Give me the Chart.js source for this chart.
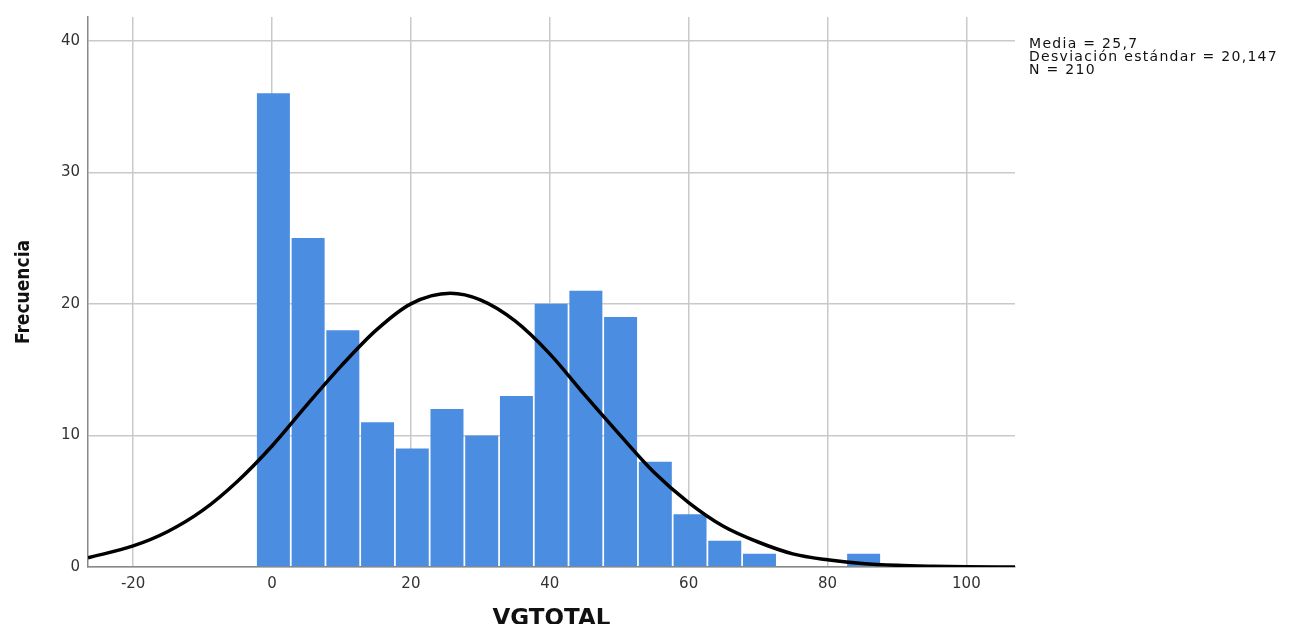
<!DOCTYPE html>
<html>
<head>
<meta charset="utf-8">
<script src="https://cdn.jsdelivr.net/npm/chart.js@4/dist/chart.umd.min.js"></script>
<style>
  html, body { margin: 0; padding: 0; background: #fff; }
  #wrap { position: relative; width: 1293px; height: 624px; }
  #stats {
    position: absolute; left: 1029px; top: 37px;
    font-family: "DejaVu Sans", sans-serif; font-size: 14px; line-height: 13px;
    letter-spacing: 1.3px; color: #111; white-space: pre;
  }
</style>
</head>
<body>
<div id="wrap">
  <canvas id="grafico" width="1293" height="624"></canvas>
  <div id="stats">Media = 25,7
Desviación estándar = 20,147
N = 210</div>
</div>
<script>
// Histograma de VGTOTAL (centros de los intervalos y frecuencias)
const centrosIntervalos = [0.2, 5.2, 10.2, 15.2, 20.2, 25.2, 30.2, 35.2, 40.2, 45.2, 50.2, 55.2, 60.2, 65.2, 70.2, 75.2, 80.2, 85.2];
const frecuencias = [36, 25, 18, 11, 9, 12, 10, 13, 20, 21, 19, 8, 4, 2, 1, 0, 0, 1];

// Curva normal
const curvaX = [-26.5, -20, -15, -10, -5, 0, 5, 10, 15, 20, 25.7, 30, 35, 40, 45, 50, 55, 60, 65, 70, 75, 80, 85, 90, 95, 100, 107];
const curvaY = [0.7, 1.6, 2.7, 4.3, 6.5, 9.2, 12.3, 15.3, 18.0, 20.0, 20.8, 20.3, 18.7, 16.2, 13.1, 10.1, 7.2, 4.9, 3.1, 1.9, 1.0, 0.55, 0.27, 0.13, 0.06, 0.02, 0.0];

// Marcas de los ejes
const ticksX = [-20, 0, 20, 40, 60, 80, 100];
const ticksY = [0, 10, 20, 30, 40];

const datosBarras = centrosIntervalos.map((x, i) => ({ x: x, y: frecuencias[i] }));
const datosCurva = curvaX.map((x, i) => ({ x: x, y: curvaY[i] }));

const ctx = document.getElementById('grafico').getContext('2d');
new Chart(ctx, {
  type: 'bar',
  data: {
    datasets: [{
      type: 'line',
      data: datosCurva,
      borderColor: '#000',
      borderWidth: 3.5,
      pointRadius: 0,
      cubicInterpolationMode: 'monotone',
      fill: false,
      order: 0
    }, {
      type: 'bar',
      data: datosBarras,
      backgroundColor: '#4b8de0',
      borderWidth: 0,
      barPercentage: 0.95,
      categoryPercentage: 1,
      order: 1
    }]
  },
  options: {
    responsive: false,
    animation: false,
    layout: { padding: { top: 14, right: 278, left: 0, bottom: 0 } },
    plugins: { legend: { display: false }, tooltip: { enabled: false } },
    scales: {
      x: {
        type: 'linear',
        offset: false,
        min: -26.5,
        max: 107,
        afterBuildTicks: s => { s.ticks = ticksX.map(v => ({ value: v })); },
        afterFit: s => { s.height = 57; },
        grid: { color: '#c9c9c9', lineWidth: 1.5, drawTicks: false, offset: false },
        border: { color: '#888', width: 1.5 },
        ticks: { color: '#333', padding: 8, font: { family: 'DejaVu Sans', size: 15 } },
        title: {
          display: true, text: 'VGTOTAL', color: '#111',
          font: { family: 'DejaVu Sans', size: 23, weight: 'bold' },
          padding: { top: 6, bottom: -9 }
        }
      },
      y: {
        min: 0,
        max: 41.8,
        afterBuildTicks: s => { s.ticks = ticksY.map(v => ({ value: v })); },
        afterFit: s => { s.width = 88; },
        grid: { color: '#c9c9c9', lineWidth: 1.5, drawTicks: false },
        border: { color: '#888', width: 1.5 },
        ticks: { color: '#333', padding: 8, font: { family: 'DejaVu Sans', size: 15 } },
        title: {
          display: true, text: 'Frecuencia', color: '#111',
          font: { family: 'Liberation Sans Narrow, DejaVu Sans Condensed, sans-serif', size: 19, weight: 'bold' },
          padding: { top: 13, bottom: 0 }
        }
      }
    }
  }
});
</script>
</body>
</html>
